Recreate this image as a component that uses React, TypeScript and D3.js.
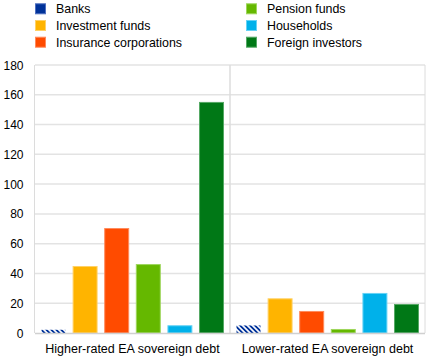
import React from "react";
import * as d3 from "d3";

const categories = ["Higher-rated EA sovereign debt", "Lower-rated EA sovereign debt"];
const seriesNames = ["Banks", "Investment funds", "Insurance corporations", "Pension funds", "Households", "Foreign investors"];
const seriesColors = ["#003299", "#ffb400", "#ff4b00", "#65b800", "#00b1ea", "#007816"];
const seriesStrokes = ["#4f6fc0", "#ffd166", "#ff8a5c", "#9ed65c", "#66d2f5", "#55a865"];
const higherValues = [2.5, 45, 70.5, 46.3, 5.2, 155.2];
const lowerValues = [5.4, 23.3, 14.8, 2.7, 26.9, 19.5];
const yTicks = [0, 20, 40, 60, 80, 100, 120, 140, 160, 180];
const legendOrder = [[0, 3], [1, 4], [2, 5]];

const W = 437, H = 361;
const L = 35, R = 425, T = 65, B = 333;

export default function App() {
  const values = [higherValues, lowerValues];
  const y = d3.scaleLinear().domain([0, 180]).range([B, T]);
  const x0 = d3.scaleBand<string>().domain(categories).range([L, R]).padding(0);
  const x1 = d3.scaleBand<string>().domain(seriesNames).range([0, x0.bandwidth()]).paddingInner(0.21).paddingOuter(0.19);
  const font = "'Liberation Sans', Arial, sans-serif";
  return (
    <svg width={W} height={H} style={{ position: "absolute", left: 0, top: 0 }} fontFamily={font}>
      <defs>
        <pattern id="hatch" patternUnits="userSpaceOnUse" width="3.5" height="3.5" patternTransform="rotate(45)">
          <rect width="3.5" height="3.5" fill="#ffffff" />
          <rect width="3.5" height="1.8" fill="#003299" />
        </pattern>
      </defs>
      <rect width={W} height={H} fill="#fff" />
      {legendOrder.map((row, ri) =>
        row.map((si, ci) => {
          const lx = ci === 0 ? 35 : 246;
          const ly = 3.3 + ri * 16.7;
          return (
            <g key={si}>
              <rect x={lx + 0.5} y={ly + 0.5} width={10} height={10} fill={seriesColors[si]} stroke={seriesStrokes[si]} strokeWidth={1} />
              <text x={lx + 21} y={ly + 10} fontSize={12.4} fill="#000">{seriesNames[si]}</text>
            </g>
          );
        })
      )}
      {yTicks.map((t) => (
        <g key={t}>
          {t > 0 && <line x1={L} x2={R} y1={y(t)} y2={y(t)} stroke="#e3e3e3" strokeWidth={1.5} />}
          <text x={23.5} y={y(t) + 4.5} fontSize={12} textAnchor="end" fill="#000">{t}</text>
        </g>
      ))}
      <line x1={L - 0.5} x2={L - 0.5} y1={T} y2={B} stroke="#dcdcdc" strokeWidth={1} />
      <line x1={R} x2={R} y1={T} y2={B} stroke="#dcdcdc" strokeWidth={1} />
      <line x1={L + x0.bandwidth()} x2={L + x0.bandwidth()} y1={T} y2={B} stroke="#dcdcdc" strokeWidth={1.5} />
      {categories.map((c, ci) => (
        <g key={c}>
          {seriesNames.map((s, si) => {
            const v = values[ci][si];
            const bx = (x0(c) as number) + (x1(s) as number);
            return (
              <rect key={s} x={bx + 0.5} y={y(v) + 0.5} width={x1.bandwidth() - 1} height={Math.max(0, B - y(v) - 0.5)}
                fill={si === 0 ? "url(#hatch)" : seriesColors[si]}
                stroke={si === 0 ? "none" : seriesStrokes[si]} strokeWidth={1} />
            );
          })}
          <text x={(x0(c) as number) + x0.bandwidth() / 2} y={353} fontSize={12.5} textAnchor="middle" fill="#000">{c}</text>
        </g>
      ))}
      <line x1={L} x2={R} y1={B + 0.5} y2={B + 0.5} stroke="#d0d0d0" strokeWidth={1.5} />
    </svg>
  );
}
